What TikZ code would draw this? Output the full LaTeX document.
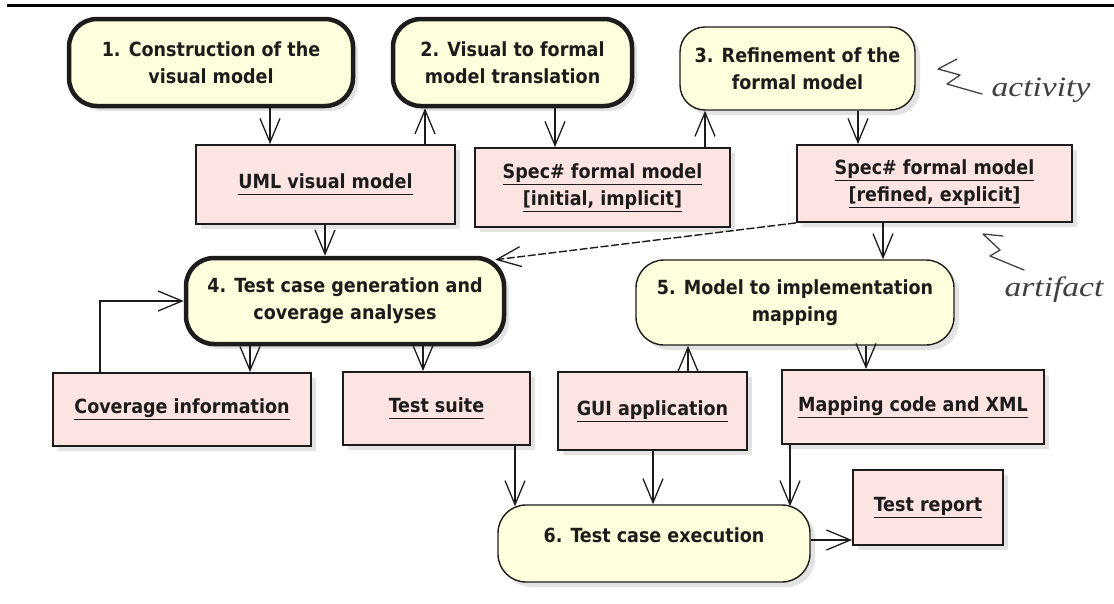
\documentclass[tikz,border=0pt]{standalone}
\usepackage{fontspec}
\setmainfont{DejaVu Sans Condensed}
\newfontfamily\annotfont{Liberation Serif}
\usetikzlibrary{arrows.meta,shadows,calc}
\definecolor{actfill}{RGB}{255,255,222}
\definecolor{artfill}{RGB}{252,228,226}
\definecolor{ink}{RGB}{28,28,28}
\newcommand\ulline[1]{\underline{\vphantom{gjp}#1}}
\tikzset{
  actbox/.style={rectangle, rounded corners=28pt, fill=actfill, draw=ink,
    line width=1.4pt, align=center, inner sep=0pt,
    drop shadow={shadow xshift=5pt, shadow yshift=-5pt, fill=black!22}},
  heavy/.style={line width=4.5pt},
  artbox/.style={rectangle, fill=artfill, draw=ink, line width=1.8pt,
    align=center, inner sep=0pt,
    drop shadow={shadow xshift=5pt, shadow yshift=-5pt, fill=black!22}},
  flow/.style={draw=ink, line width=1.4pt,
    -{Straight Barb[length=24pt, width=20pt, line width=1.3pt]}},
  dashflow/.style={flow, dash pattern=on 8pt off 2.5pt},
  annot/.style={font=\annotfont\itshape\fontsize{28}{28}\selectfont, text=black!75},
  zigzag/.style={draw=black!75, line width=1.3pt, line join=round, line cap=round}
}
\begin{document}
\begin{tikzpicture}[x=1pt, y=-1pt, font=\bfseries\fontsize{19.5}{27}\selectfont, text=ink]
\useasboundingbox (0,0) rectangle (1114,603);
\draw[line width=3pt] (7,5) -- (1114,5);

% activities
\node[actbox, heavy, minimum width=284pt, minimum height=87pt] (n1) at (211,62.5)
  {1. Construction of the\\visual model};
\node[actbox, heavy, minimum width=239pt, minimum height=87pt] (n2) at (512.5,62.5)
  {2. Visual to formal\\model translation};
\node[actbox, rounded corners=25pt, minimum width=235pt, minimum height=83pt] (n3) at (797.5,68.5)
  {3. Refinement of the\\formal model};
\node[actbox, heavy, minimum width=318pt, minimum height=86pt] (n4) at (345,301)
  {4. Test case generation and\\coverage analyses};
\node[actbox, minimum width=318pt, minimum height=85pt] (n5) at (795,302.5)
  {5. Model to implementation\\mapping};
\node[actbox, minimum width=312pt, minimum height=77pt, text depth=16pt] (n6) at (654,543.5)
  {6. Test case execution};

% artifacts
\node[artbox, minimum width=259pt, minimum height=79pt] (uml) at (325.5,184.5)
  {\ulline{UML visual model}};
\node[artbox, minimum width=255pt, minimum height=79pt] (speci) at (602.5,187.5)
  {\ulline{Spec\# formal model}\\\ulline{[initial, implicit]}};
\node[artbox, minimum width=275pt, minimum height=77pt] (specr) at (934.5,183.5)
  {\ulline{Spec\# formal model}\\\ulline{[refined, explicit]}};
\node[artbox, minimum width=258pt, minimum height=73pt] (cov) at (182,409.5)
  {\ulline{Coverage information}};
\node[artbox, minimum width=187pt, minimum height=73pt] (ts) at (436.5,408.5)
  {\ulline{Test suite}};
\node[artbox, minimum width=189pt, minimum height=78pt] (gui) at (652.5,411)
  {\ulline{GUI application}};
\node[artbox, minimum width=262pt, minimum height=74pt] (map) at (913,407)
  {\ulline{Mapping code and XML}};
\node[artbox, minimum width=150pt, minimum height=75pt] (rep) at (928,507.5)
  {\ulline{Test report}};

% connector columns
\coordinate (xa) at (270,0);
\coordinate (xb) at (425,0);
\coordinate (xc) at (555,0);
\coordinate (xd) at (705,0);
\coordinate (xe) at (858,0);
\coordinate (xf) at (325,0);
\coordinate (xg) at (883,0);
\coordinate (xh) at (250,0);
\coordinate (xi) at (423,0);
\coordinate (xj) at (100,0);
\coordinate (xk) at (688,0);
\coordinate (xl) at (866,0);
\coordinate (xm) at (515,0);
\coordinate (xn) at (653,0);
\coordinate (xo) at (790,0);
\coordinate (yr) at (0,540);
\coordinate (dashend) at ($(n4.north east)+(-11,4)$);

\draw[flow] (n1.south -| xa) -- (uml.north -| xa);
\draw[flow] (uml.north -| xb) -- (n2.south -| xb);
\draw[flow] (n2.south -| xc) -- (speci.north -| xc);
\draw[flow] (speci.north -| xd) -- (n3.south -| xd);
\draw[flow] (n3.south -| xe) -- (specr.north -| xe);
\draw[flow] (uml.south -| xf) -- (n4.north -| xf);
\draw[dashflow] (specr.south west) -- (dashend);
\draw[flow] (specr.south -| xg) -- (n5.north -| xg);
\draw[flow] (n4.south -| xh) -- (cov.north -| xh);
\draw[flow] (n4.south -| xi) -- (ts.north -| xi);
\draw[flow] (cov.north -| xj) |- (n4.west);
\draw[flow] (gui.north -| xk) -- (n5.south -| xk);
\draw[flow] (n5.south -| xl) -- (map.north -| xl);
\draw[flow] (ts.south -| xm) -- ([yshift=-2pt]n6.north -| xm);
\draw[flow] (gui.south -| xn) -- (n6.north -| xn);
\draw[flow] (map.south -| xo) -- ([yshift=-2pt]n6.north -| xo);
\draw[flow] (n6.east |- yr) -- (rep.west |- yr);

% legend
\node[annot] (lblact) at (1041,90) {\scalebox{1.2}[1]{activity}};
\node[annot] (lblart) at (1054,290) {\scalebox{1.2}[1]{artifact}};
\draw[zigzag] (957,59) -- (938,69) -- (960,75) -- (947,84) -- (982,94);
\draw[zigzag] (1003,236) -- (983,234) -- (1000,250) -- (990,256) -- (1024,270);
\end{tikzpicture}
\end{document}
